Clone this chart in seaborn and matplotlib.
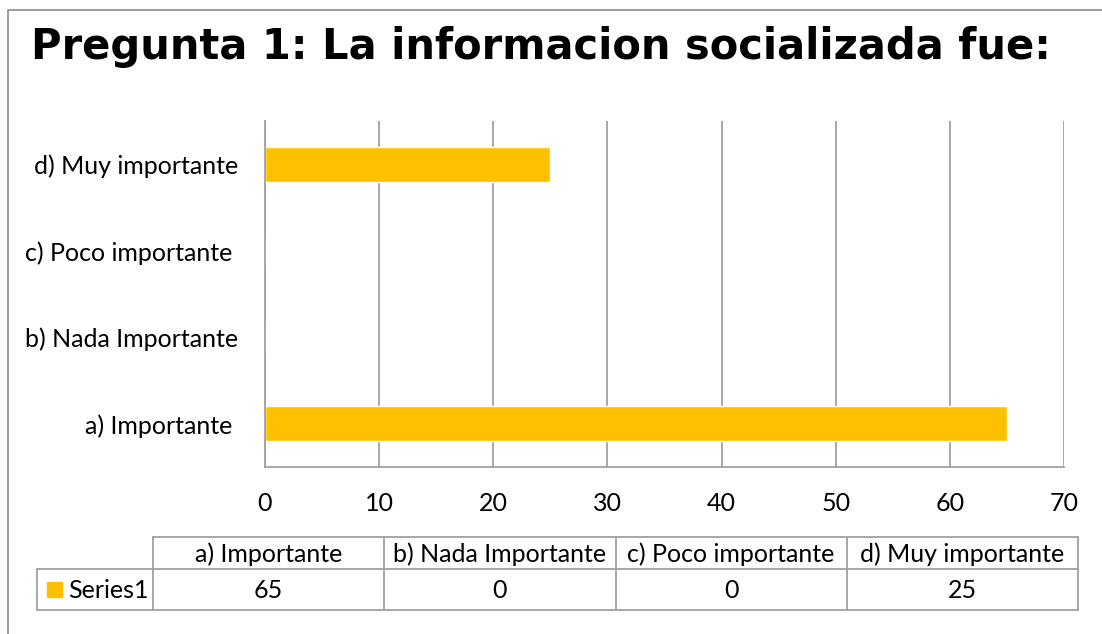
import matplotlib
matplotlib.use("Agg")
import matplotlib.pyplot as plt
import matplotlib.patches as mpatches
import seaborn as sns
import pandas as pd

# data
categories = ["a) Importante ", "b) Nada Importante", "c) Poco importante ", "d) Muy importante"]
values = [65, 0, 0, 25]
series_name = "Series1"
x_ticks = [0, 10, 20, 30, 40, 50, 60, 70]
title = "Pregunta 1: La informacion socializada fue:"

W, H = 1102, 634
BAR_COLOR = "#FFC000"
LINE_COLOR = "#A0A0A0"
LABEL_FONT = "Lato"
FS = 18

sns.set_theme(style="white")
plt.rcParams["font.family"] = [LABEL_FONT, "DejaVu Sans"]
plt.rcParams["text.color"] = "black"

df = pd.DataFrame({"category": categories, "value": values})

fig = plt.figure(figsize=(W / 100, H / 100), dpi=100)

# outer chart border (cut off at right/bottom like the screenshot)
fig.patches.append(mpatches.Rectangle((8 / W, -0.05), 1.1, (H - 10) / H + 0.05,
                                      transform=fig.transFigure, fill=False,
                                      edgecolor="#8C8C8C", lw=1.2))

fig.text(541 / W, 1 - 47 / H, title, ha="center", va="center",
         fontsize=30, fontweight="bold", family="DejaVu Sans", color="black")

# main bar chart
ax = fig.add_axes([265 / W, (H - 467) / H, (1064 - 265) / W, (467 - 121) / H])
sns.barplot(data=df, x="value", y="category", order=categories[::-1],
            color=BAR_COLOR, width=0.4, saturation=1, ax=ax)
ax.set_xlim(x_ticks[0], x_ticks[-1])
ax.set_xticks(x_ticks)
ax.set_xlabel("")
ax.set_ylabel("")
ax.grid(axis="x", color=LINE_COLOR, lw=1.3)
ax.set_axisbelow(True)
for side in ["top", "right"]:
    ax.spines[side].set_visible(False)
for side in ["left", "bottom"]:
    ax.spines[side].set_color(LINE_COLOR)
    ax.spines[side].set_linewidth(1.3)
ax.tick_params(axis="x", length=0, pad=18, labelsize=FS, labelcolor="black")
ax.tick_params(axis="y", length=0, pad=19, labelsize=FS, labelcolor="black")

# data table underneath
tax = fig.add_axes([37 / W, (H - 610) / H, (1078 - 37) / W, (610 - 537) / H])
tax.set_xlim(0, 1041)
tax.set_ylim(73, 0)
tax.axis("off")
label_w = 116
col_w = (1041 - label_w) / len(categories)
head_h = 32
lkw = dict(color=LINE_COLOR, lw=1.3, clip_on=False)
tax.plot([label_w, 1041], [0, 0], **lkw)
tax.plot([0, 1041], [head_h, head_h], **lkw)
tax.plot([0, 1041], [73, 73], **lkw)
tax.plot([0, 0], [head_h, 73], **lkw)
for i in range(len(categories) + 1):
    xe = label_w + i * col_w
    tax.plot([xe, xe], [0, 73], **lkw)
for i, (cat, val) in enumerate(zip(categories, values)):
    xc = label_w + (i + 0.5) * col_w
    tax.text(xc, head_h / 2 + 1, cat.strip(), ha="center", va="center", fontsize=FS)
    tax.text(xc, (head_h + 73) / 2 + 1, str(val), ha="center", va="center", fontsize=FS)
tax.add_patch(mpatches.Rectangle((10, 45), 15, 15, color=BAR_COLOR, clip_on=False))
tax.text(31, (head_h + 73) / 2 + 1, series_name, ha="left", va="center", fontsize=FS)

fig.savefig("out.png", dpi=100)
